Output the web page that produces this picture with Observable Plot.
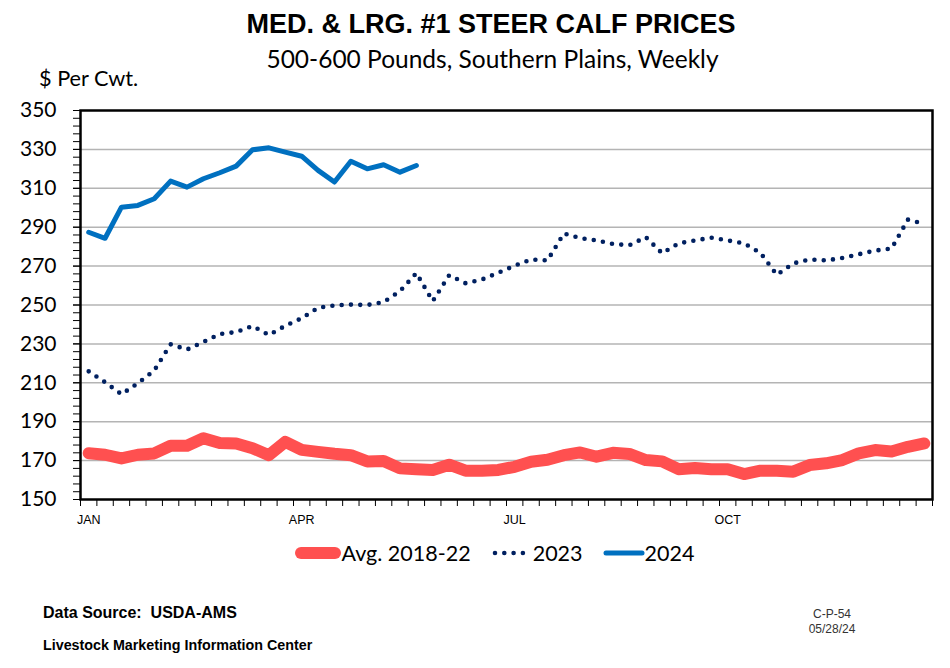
<!DOCTYPE html>
<html>
<head>
<meta charset="utf-8">
<script src="https://cdn.jsdelivr.net/npm/d3@7"></script>
<script src="https://cdn.jsdelivr.net/npm/@observablehq/plot@0.6"></script>
<style>
  html, body { margin: 0; padding: 0; background: #fff; }
  #wrap { position: relative; width: 950px; height: 668px; overflow: hidden; font-family: Lato, "Noto Sans", sans-serif; }
  .abs { position: absolute; white-space: nowrap; }
  #title { left: 0; width: 982px; top: 9px; text-align: center; font-family: "Liberation Sans", Arial, sans-serif; font-weight: bold; font-size: 27px; color: #000; }
  #subtitle { left: 0; width: 985px; top: 44px; text-align: center; font-size: 24.5px; color: #000; }
  #ylab { left: 39px; top: 65px; font-size: 21.7px; color: #000; }
  #chart { position: absolute; left: 0; top: 0; }
  #legend { left: 4px; width: 980px; top: 540px; display: flex; justify-content: center; align-items: center; font-size: 21.5px; color: #000; }
  .item { display: flex; align-items: center; margin: 0 10px; }
  .src { font-family: "Liberation Sans Narrow", "Arial Narrow", "Liberation Sans", sans-serif; font-weight: bold; color: #000; }
  .code { font-family: "Liberation Sans Narrow", "Arial Narrow", "Liberation Sans", sans-serif; font-size: 12px; color: #333; text-align: center; width: 80px; }
</style>
</head>
<body>
<div id="wrap">
  <div id="chart"></div>
  <div class="abs" id="title">MED. &amp; LRG. #1 STEER CALF PRICES</div>
  <div class="abs" id="subtitle">500-600 Pounds, Southern Plains, Weekly</div>
  <div class="abs" id="ylab">$ Per Cwt.</div>
  <div class="abs" id="legend"></div>
  <div class="abs src" style="left:43px; top:604px; font-size:16px;">Data Source:&nbsp; USDA-AMS</div>
  <div class="abs src" style="left:43px; top:637px; font-size:14.3px;">Livestock Marketing Information Center</div>
  <div class="abs code" style="left:792px; top:607px;">C-P-54</div>
  <div class="abs code" style="left:792px; top:622px;">05/28/24</div>
</div>
<script>
// ---- data ----
const months = ["JAN", "APR", "JUL", "OCT"];
const monthWeeks = [0, 13, 26, 39];
const seriesNames = ["Avg. 2018-22", "2023", "2024"];
const avg1822 = [173.8,173.0,171.1,173.0,173.7,177.6,177.6,181.5,179.0,178.8,176.4,172.8,179.6,175.5,174.5,173.5,172.8,169.6,169.8,166.0,165.6,165.2,167.9,164.8,164.8,165.2,166.8,169.4,170.4,172.8,174.2,172.0,174.0,173.4,170.3,169.6,165.6,166.2,165.6,165.6,163.1,164.8,164.8,164.3,167.7,168.6,170.3,173.7,175.4,174.7,177.1,178.8];
const y2023 = [215.9,210.3,204.1,209.8,216.3,229.8,227.1,231.0,235.1,236.1,239.2,234.6,239.3,243.2,248.6,249.8,250.2,250.0,251.5,257.1,266.4,252.0,265.3,261.2,263.1,266.6,270.2,273.4,272.9,286.8,284.4,283.2,281.4,280.7,284.9,276.6,281.7,283.2,284.6,283.2,281.7,276.8,265.5,271.4,273.4,272.9,274.2,276.1,278.0,279.0,293.9,291.7];
const y2024 = [287.4,284.3,300.3,301.2,304.6,313.7,310.6,314.9,318.0,321.4,329.8,330.8,328.6,326.5,319.2,313.2,323.9,320.0,322.1,318.3,321.7];
const yTicks = d3.range(150, 351, 20);
const yMinor = d3.range(150, 351, 4);
const gridVals = d3.range(170, 331, 20);

const colors = {avg: "#ff5050", y23: "#002060", y24: "#0070c0"};

const toRows = arr => arr.map((v, i) => ({week: i + 0.5, value: v}));

const chart = Plot.plot({
  width: 950,
  height: 530,
  marginLeft: 80,
  marginRight: 18,
  marginTop: 110,
  marginBottom: 31,
  style: {background: "transparent", color: "#000"},
  x: {domain: [0, 52], axis: null, label: null},
  y: {domain: [150, 350], axis: null, label: null},
  marks: [
    Plot.ruleY(gridVals, {stroke: "#b4b4b4", strokeWidth: 1.5}),
    Plot.axisY({ticks: yMinor, tickSize: 7, tickFormat: () => "", label: null, strokeWidth: 1}),
    Plot.axisY({ticks: yTicks, tickSize: 7, tickPadding: 17, label: null, fontSize: 21, fontFamily: "Lato, 'Noto Sans', sans-serif"}),
    Plot.axisX({ticks: d3.range(0, 53), tickSize: 7, tickFormat: () => "", label: null}),
    Plot.axisX({ticks: monthWeeks.map(w => w + 0.5), tickSize: 0, tickPadding: 16, fontSize: 12.5, label: null,
      fontFamily: "'Liberation Sans', Arial, sans-serif",
      tickFormat: d => months[monthWeeks.indexOf(d - 0.5)]}),
    Plot.line(toRows(avg1822), {x: "week", y: "value", stroke: colors.avg, strokeWidth: 12, strokeLinecap: "round", strokeLinejoin: "round"}),
    Plot.line(toRows(y2023), {x: "week", y: "value", stroke: colors.y23, strokeWidth: 4.6, strokeDasharray: "0 9.3", strokeLinecap: "round", strokeLinejoin: "round"}),
    Plot.line(toRows(y2024), {x: "week", y: "value", stroke: colors.y24, strokeWidth: 5, strokeLinecap: "round", strokeLinejoin: "round"}),
    Plot.frame({stroke: "#000", strokeWidth: 2.5})
  ]
});
document.getElementById("chart").appendChild(chart);

// legend
const legend = d3.select("#legend");
const sw = [
  {name: seriesNames[0], svg: `<svg width="48" height="16"><line x1="7" y1="8" x2="41" y2="8" stroke="${colors.avg}" stroke-width="12" stroke-linecap="round"/></svg>`},
  {name: seriesNames[1], svg: `<svg width="42" height="16"><line x1="4" y1="8" x2="36" y2="8" stroke="${colors.y23}" stroke-width="4.6" stroke-dasharray="0 9.3" stroke-linecap="round"/></svg>`},
  {name: seriesNames[2], svg: `<svg width="42" height="16"><line x1="3" y1="8" x2="39" y2="8" stroke="${colors.y24}" stroke-width="5" stroke-linecap="round"/></svg>`}
];
sw.forEach(s => {
  const it = legend.append("div").attr("class", "item");
  it.append("span").html(s.svg).style("display", "flex");
  it.append("span").text(s.name);
});
</script>
</body>
</html>
